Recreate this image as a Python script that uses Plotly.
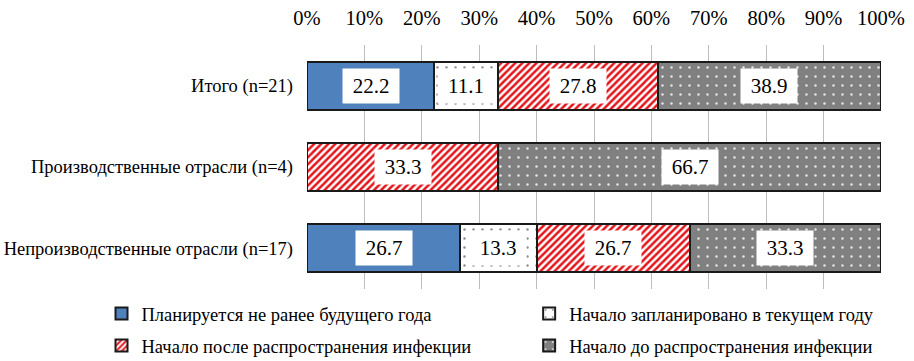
import plotly.graph_objects as go

categories = ["Итого (n=21)", "Производственные отрасли (n=4)", "Непроизводственные отрасли (n=17)"]
series_names = [
    "Планируется не ранее будущего года",
    "Начало запланировано в текущем году",
    "Начало после распространения инфекции",
    "Начало до распространения инфекции",
]
planned_next_year = [22.2, 0.0, 26.7]
planned_this_year = [11.1, 0.0, 13.3]
after_spread = [27.8, 33.3, 26.7]
before_spread = [38.9, 66.7, 33.3]
tick_values = [0, 10, 20, 30, 40, 50, 60, 70, 80, 90, 100]
tick_labels = ["0%", "10%", "20%", "30%", "40%", "50%", "60%", "70%", "80%", "90%", "100%"]

series_values = [planned_next_year, planned_this_year, after_spread, before_spread]

FONT = "Liberation Serif, Times New Roman, serif"
OUTLINE = "#1a1a1a"

styles = [
    dict(color="#4F81BD"),
    dict(color="#FFFFFF", pattern=dict(shape=".", fgcolor="#8c8c8c", bgcolor="#FFFFFF",
                                       size=9, solidity=0.06, fgopacity=1)),
    dict(color="#FFFFFF", pattern=dict(shape="/", fgcolor="#E3151B", bgcolor="#FFFFFF",
                                       size=5, solidity=0.5, fgopacity=1)),
    dict(color="#808080", pattern=dict(shape=".", fgcolor="#E6E6E6", bgcolor="#808080",
                                       size=9, solidity=0.06, fgopacity=1)),
]
# one legend box per entry, laid out as a 2x2 grid under the plot
legend_refs = ["legend", "legend2", "legend3", "legend4"]
legend_x = [-0.358, 0.387, -0.358, 0.387]
legend_y = [-0.1025, -0.1025, -0.234, -0.234]

fig = go.Figure()
for name, vals, st, lg in zip(series_names, series_values, styles, legend_refs):
    marker = dict(line=dict(color=OUTLINE, width=2))
    marker.update(st)
    fig.add_trace(go.Bar(
        y=categories, x=vals, name=name, orientation="h",
        marker=marker, hoverinfo="skip", legend=lg,
    ))

# value labels in white boxes at the centre of each segment
annotations = []
for i, cat in enumerate(categories):
    left = 0.0
    for vals in series_values:
        v = vals[i]
        if v > 0:
            annotations.append(dict(
                x=left + v / 2, y=cat, xref="x", yref="y", text=f"{v:.1f}",
                showarrow=False, bgcolor="#FFFFFF", width=54, height=32,
                font=dict(family=FONT, size=21, color="#000000"),
            ))
        left += v

legend_layouts = {}
for lg, lx, ly in zip(legend_refs, legend_x, legend_y):
    legend_layouts[lg] = dict(
        orientation="h", xanchor="left", yanchor="middle", x=lx, y=ly,
        font=dict(family=FONT, size=18.5, color="#000000"),
        itemwidth=30, bgcolor="rgba(0,0,0,0)",
    )

fig.update_layout(
    barmode="stack",
    bargap=0.41,
    width=914, height=361,
    margin=dict(l=307, r=33, t=45, b=72, autoexpand=False),
    paper_bgcolor="#FFFFFF",
    plot_bgcolor="#FFFFFF",
    font=dict(family=FONT, size=18.5, color="#000000"),
    annotations=annotations,
    showlegend=True,
    xaxis=dict(
        side="top", range=[0, 100], tickvals=tick_values, ticktext=tick_labels,
        showgrid=True, gridcolor="#BDBDBD", gridwidth=1, zeroline=False,
        showline=False, ticks="", ticklabelstandoff=15, automargin=False,
        tickfont=dict(family=FONT, size=20.5),
    ),
    yaxis=dict(
        autorange="reversed", showgrid=False, zeroline=False, showline=False,
        ticks="", ticklabelstandoff=13, automargin=False,
        tickfont=dict(family=FONT, size=18.5),
    ),
    **legend_layouts,
)

fig.write_html("out.html")
